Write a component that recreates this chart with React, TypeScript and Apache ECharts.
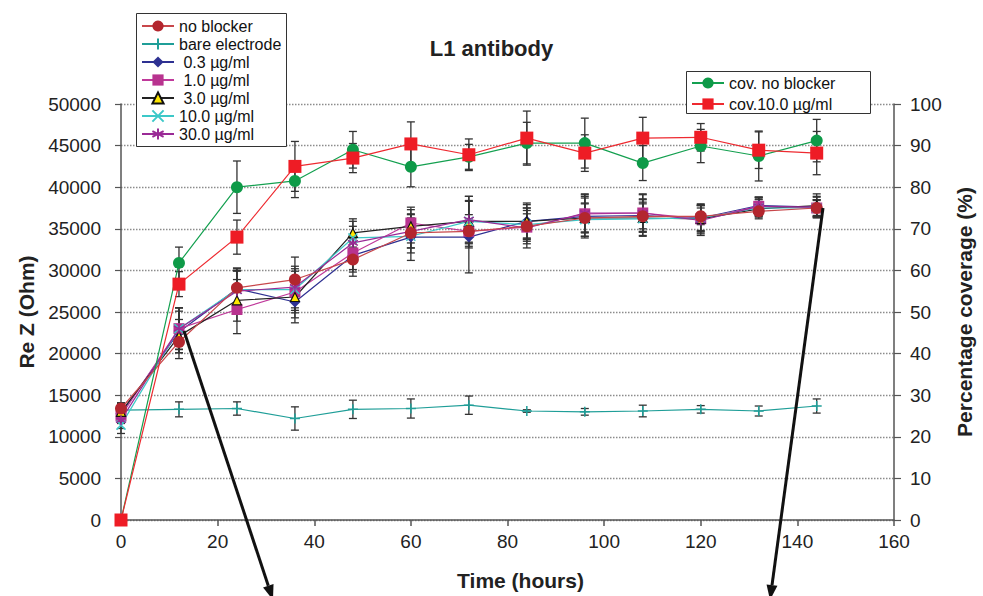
import React, { useEffect, useRef } from "react";
import * as echarts from "echarts";

const time = [0, 12, 24, 36, 48, 60, 72, 84, 96, 108, 120, 132, 144];

const noBlocker = [13400, 21400, 27900, 28900, 31300, 34500, 34700, 35300, 36300, 36500, 36500, 37100, 37500];
const noBlockerErr = [700, 2000, 2000, 2700, 2000, 1800, 1500, 1500, 1700, 1500, 1000, 700, 900];

const bare = [13200, 13300, 13400, 12200, 13300, 13400, 13800, 13100, 13000, 13100, 13300, 13100, 13700];
const bareErr = [800, 900, 800, 1400, 1100, 1150, 1100, 150, 400, 700, 450, 600, 850];

const ug03 = [12800, 22600, 27800, 26200, 31800, 34000, 34000, 35900, 36500, 36600, 36300, 37800, 37600];
const ug03Err = [1000, 2500, 2500, 2500, 2000, 2800, 4300, 2000, 2400, 2000, 1600, 1000, 1200];

const ug1 = [12500, 23000, 25300, 27400, 32100, 35700, 34700, 35200, 36800, 36900, 36200, 37700, 37500];
const ug1Err = [900, 2500, 2900, 2500, 2000, 1900, 2000, 2000, 2300, 2200, 1800, 1100, 1000];

const ug3 = [13000, 22100, 26400, 26800, 34500, 35300, 35900, 35900, 36300, 36300, 36200, 37400, 37800];
const ug3Err = [1000, 2000, 2500, 2500, 1700, 2000, 3000, 2200, 2400, 2200, 1600, 1200, 1400];

const ug10 = [11400, 23000, 27700, 27700, 33900, 34100, 35900, 35500, 36100, 36200, 36300, 37500, 37500];
const ug10Err = [1000, 2500, 2500, 2500, 2000, 2000, 2500, 2000, 2000, 2000, 1500, 1000, 1000];

const ug30 = [12000, 23000, 27500, 28000, 33300, 34700, 36100, 35100, 36900, 36900, 36000, 37700, 37600];
const ug30Err = [1000, 2500, 2500, 2500, 2000, 2000, 2800, 2400, 2300, 2300, 1800, 1100, 1300];

const covNoBlocker = [0, 61.8, 80, 81.5, 89, 84.9, 87.3, 90.6, 90.6, 85.8, 89.9, 87.5, 91.2];
const covNoBlockerErr = [0, 3.8, 6.3, 4, 4.4, 4.8, 3, 5, 6, 4.2, 4, 6, 5.1];

const cov10 = [0, 56.7, 68, 85, 87, 90.4, 87.8, 91.8, 88.2, 91.8, 92, 88.9, 88.2];
const cov10Err = [0, 3, 4.1, 6, 3.5, 5.3, 3.8, 6.5, 4.4, 5, 3.3, 4.4, 5.2];

const leftTicks = [0, 5000, 10000, 15000, 20000, 25000, 30000, 35000, 40000, 45000, 50000];

const FONT = "'Liberation Sans', Arial, sans-serif";

const pairs = (vals: number[]) => time.map((t, i) => [t, vals[i]]);
const triples = (vals: number[], errs: number[]) => time.map((t, i) => [t, vals[i], errs[i]]);

const SYM_X = "path://M-5,-5L5,5M-5,5L5,-5";
const SYM_STAR = "path://M0,-5L0,5M-4.3,-2.5L4.3,2.5M-4.3,2.5L4.3,-2.5";
const SYM_PLUS = "path://M0,-5L0,5M-5,0L5,0";

function errSeries(name: string, vals: number[], errs: number[], yAxisIndex: number) {
  return {
    type: "custom",
    name,
    yAxisIndex,
    z: 3,
    silent: true,
    data: triples(vals, errs),
    encode: { x: 0, y: 1 },
    renderItem: (params: any, api: any) => {
      const x = api.value(0);
      const y = api.value(1);
      const e = api.value(2);
      if (!e) return null;
      const hi = api.coord([x, y + e]);
      const lo = api.coord([x, y - e]);
      const w = 4;
      const st = { stroke: "#333", lineWidth: 1.3 };
      return {
        type: "group",
        children: [
          { type: "line", shape: { x1: hi[0], y1: hi[1], x2: lo[0], y2: lo[1] }, style: st },
          { type: "line", shape: { x1: hi[0] - w, y1: hi[1], x2: hi[0] + w, y2: hi[1] }, style: st },
          { type: "line", shape: { x1: lo[0] - w, y1: lo[1], x2: lo[0] + w, y2: lo[1] }, style: st },
        ],
      };
    },
  };
}

function lineSeries(
  name: string,
  vals: number[],
  lineColor: string,
  symbol: string,
  symbolSize: number,
  fill: string,
  border: string,
  borderWidth: number,
  yAxisIndex = 0
) {
  return {
    type: "line",
    name,
    yAxisIndex,
    z: 4,
    data: pairs(vals),
    symbol,
    symbolSize,
    showAllSymbol: true,
    lineStyle: { color: lineColor, width: 1.2 },
    itemStyle: { color: fill, borderColor: border, borderWidth },
  };
}

function arrow(x1: number, y1: number, x2: number, y2: number) {
  const dx = x2 - x1;
  const dy = y2 - y1;
  const len = Math.sqrt(dx * dx + dy * dy);
  const ux = dx / len;
  const uy = dy / len;
  const hl = 15;
  const hw = 5.5;
  const bx = x2 - ux * hl;
  const by = y2 - uy * hl;
  return [
    {
      type: "line",
      shape: { x1, y1, x2: bx, y2: by },
      style: { stroke: "#111", lineWidth: 3 },
      z: 100,
    },
    {
      type: "polygon",
      shape: {
        points: [
          [x2, y2],
          [bx - uy * hw, by + ux * hw],
          [bx + uy * hw, by - ux * hw],
        ],
      },
      style: { fill: "#111" },
      z: 100,
    },
  ];
}

export default function App() {
  const ref = useRef<HTMLDivElement>(null);

  useEffect(() => {
    document.body.style.margin = "0";
    if (!ref.current) return;
    const chart = echarts.init(ref.current, undefined, { renderer: "svg" });

    const legendText = { fontFamily: FONT, fontSize: 16, lineHeight: 16, color: "#111" };

    chart.setOption({
      animation: false,
      backgroundColor: "#fff",
      textStyle: { fontFamily: FONT },
      title: {
        text: "L1 antibody",
        left: "center",
        top: 32,
        textStyle: { fontFamily: FONT, fontSize: 22, fontWeight: "bold", color: "#222" },
      },
      grid: { left: 121, right: 86.5, top: 104, bottom: 76, containLabel: false },
      legend: [
        {
          orient: "vertical",
          left: 136,
          top: 13,
          z: 10,
          padding: [5, 6, 4, 5],
          itemWidth: 32,
          itemHeight: 14,
          itemGap: 2,
          textStyle: legendText,
          data: [
            "no blocker",
            "bare electrode",
            " 0.3 µg/ml",
            " 1.0 µg/ml",
            " 3.0 µg/ml",
            "10.0 µg/ml",
            "30.0 µg/ml",
          ],
        },
        {
          orient: "vertical",
          left: 686,
          top: 71,
          z: 10,
          padding: [4, 8, 3, 5],
          itemWidth: 32,
          itemHeight: 14,
          itemGap: 5,
          textStyle: legendText,
          data: ["cov. no blocker", "cov.10.0 µg/ml"],
        },
      ],
      xAxis: {
        type: "value",
        min: 0,
        max: 160,
        interval: 20,
        name: "Time (hours)",
        nameLocation: "middle",
        nameGap: 50,
        nameTextStyle: {
          fontFamily: FONT,
          fontSize: 21,
          fontWeight: "bold",
          color: "#222",
          padding: [0, 0, 0, 26],
        },
        axisLine: { show: true, lineStyle: { color: "#555", width: 1.5 } },
        axisTick: { show: true, inside: false, length: 6, lineStyle: { color: "#555", width: 1.5 } },
        axisLabel: { fontFamily: FONT, fontSize: 19, color: "#222", margin: 12 },
        splitLine: { show: false },
      },
      yAxis: [
        {
          type: "value",
          min: 0,
          max: 50000,
          interval: 5000,
          name: "Re Z (Ohm)",
          nameLocation: "middle",
          nameGap: 84,
          nameRotate: 90,
          nameTextStyle: { fontFamily: FONT, fontSize: 21, fontWeight: "bold", color: "#222" },
          axisLine: { show: true, lineStyle: { color: "#555", width: 1.5 } },
          axisTick: { show: true, inside: false, length: 6, lineStyle: { color: "#555", width: 1.2 } },
          axisLabel: {
            fontFamily: FONT,
            fontSize: 19,
            color: "#222",
            margin: 20,
            formatter: (v: number) => (leftTicks.includes(v) ? String(v) : ""),
          },
          splitLine: { show: true, lineStyle: { color: "#8c8c8c", type: [1.5, 1.5], width: 1.3 } },
        },
        {
          type: "value",
          min: 0,
          max: 100,
          interval: 10,
          position: "right",
          name: "Percentage coverage (%)",
          nameLocation: "middle",
          nameGap: 60,
          nameRotate: 90,
          nameTextStyle: { fontFamily: FONT, fontSize: 21, fontWeight: "bold", color: "#222" },
          axisLine: { show: true, lineStyle: { color: "#555", width: 1.5 } },
          axisTick: { show: true, inside: false, length: 7, lineStyle: { color: "#555", width: 1.2 } },
          axisLabel: { fontFamily: FONT, fontSize: 19, color: "#222", margin: 16 },
          splitLine: { show: false },
        },
      ],
      series: [
        errSeries("e-bare", bare, bareErr, 0),
        errSeries("e-nb", noBlocker, noBlockerErr, 0),
        errSeries("e-03", ug03, ug03Err, 0),
        errSeries("e-1", ug1, ug1Err, 0),
        errSeries("e-3", ug3, ug3Err, 0),
        errSeries("e-10", ug10, ug10Err, 0),
        errSeries("e-30", ug30, ug30Err, 0),
        errSeries("e-cnb", covNoBlocker, covNoBlockerErr, 1),
        errSeries("e-c10", cov10, cov10Err, 1),
        lineSeries("bare electrode", bare, "#1f9e98", SYM_PLUS, 10, "#1f9e98", "#1f9e98", 1.5),
        lineSeries(" 0.3 µg/ml", ug03, "#2e3192", "diamond", 11, "#2e3192", "#2e3192", 0),
        lineSeries(" 1.0 µg/ml", ug1, "#c0399b", "rect", 11, "#b8338f", "#b8338f", 0),
        lineSeries(" 3.0 µg/ml", ug3, "#222222", "triangle", 9, "#ffe600", "#111", 1.2),
        lineSeries("10.0 µg/ml", ug10, "#3cc8c8", SYM_X, 9, "#3cc8c8", "#3cc8c8", 1.5),
        lineSeries("30.0 µg/ml", ug30, "#9a2a96", SYM_STAR, 10, "#9a2a96", "#9a2a96", 1.5),
        lineSeries("no blocker", noBlocker, "#c8474b", "circle", 12, "#b3262e", "#b3262e", 0),
        lineSeries("cov. no blocker", covNoBlocker, "#14a050", "circle", 12, "#0e9a48", "#0e9a48", 0, 1),
        lineSeries("cov.10.0 µg/ml", cov10, "#ee2a30", "rect", 13, "#ee1c25", "#ee1c25", 0, 1),
      ],
      graphic: [
        {
          type: "rect",
          z: 9,
          shape: { x: 136.5, y: 13.5, width: 150, height: 133 },
          style: { fill: "#fff", stroke: "#333", lineWidth: 1 },
        },
        {
          type: "rect",
          z: 9,
          shape: { x: 686.5, y: 71.5, width: 184, height: 42 },
          style: { fill: "#fff", stroke: "#333", lineWidth: 1 },
        },
        ...arrow(184, 331, 273, 600),
        ...arrow(823, 208, 770, 600),
      ],
    });

    return () => {
      chart.dispose();
    };
  }, []);

  return <div ref={ref} style={{ width: 983, height: 596 }} />;
}
